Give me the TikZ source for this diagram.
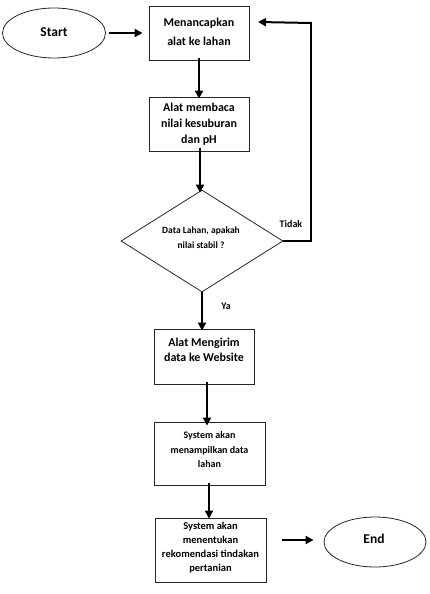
\documentclass[tikz,border=0pt]{standalone}
\usepackage{fontspec}
\setmainfont{Carlito}
\usetikzlibrary{shapes.geometric,arrows.meta}
\begin{document}
\begin{tikzpicture}[x=1pt,y=-1pt,
  box/.style={draw=black!85,line width=0.8pt,rectangle,inner sep=0pt},
  oval/.style={draw=black!85,line width=0.8pt,ellipse,inner sep=0pt},
  dia/.style={draw=black!85,line width=0.8pt,diamond,inner sep=0pt},
  txt/.style={align=center,font=\bfseries,inner sep=0pt},
  arr/.style={line width=2pt,-{Triangle[length=8pt,width=8pt]}},
  lbl/.style={font=\bfseries\fontsize{10}{12}\selectfont,inner sep=0pt}]
\useasboundingbox (0,0) rectangle (429,594);
% shapes
\node[oval,minimum width=103pt,minimum height=50pt] (start) at (54,33) {};
\node[txt,font=\bfseries\fontsize{13.5}{16}\selectfont] (starttxt) at (54,32) {Start};
\node[box,minimum width=100pt,minimum height=54pt] (b1) at (199,33) {};
\node[txt,font=\bfseries\fontsize{12}{19}\selectfont] (b1txt) at (199,32) {Menancapkan\\alat ke lahan};
\node[box,minimum width=100pt,minimum height=54pt] (b2) at (199,124) {};
\node[txt,font=\bfseries\fontsize{12}{16}\selectfont] (b2txt) at (199,124) {Alat membaca\\nilai kesuburan\\dan pH};
\node[dia,minimum width=162pt,minimum height=102pt] (d) at (202,241) {};
\node[txt,font=\bfseries\fontsize{9.5}{15}\selectfont] (dtxt) at (201,238) {Data Lahan, apakah\\nilai stabil ?};
\node[box,minimum width=100pt,minimum height=55pt] (b3) at (204,356.5) {};
\node[txt,font=\bfseries\fontsize{12}{15}\selectfont] (b3txt) at (204,350) {Alat Mengirim\\data ke Website};
\node[box,minimum width=111pt,minimum height=63pt] (b4) at (209.5,453.5) {};
\node[txt,font=\bfseries\fontsize{10}{14.5}\selectfont] (b4txt) at (209.5,450) {System akan\\menampilkan data\\lahan};
\node[box,minimum width=111pt,minimum height=64pt] (b5) at (210.5,550) {};
\node[txt,font=\bfseries\fontsize{10.5}{14}\selectfont] (b5txt) at (210.5,548) {System akan\\menentukan\\rekomendasi tindakan\\pertanian};
\node[oval,minimum width=102pt,minimum height=50pt] (end) at (375,542) {};
\node[txt,font=\bfseries\fontsize{13.5}{16}\selectfont] (endtxt) at (374,539) {End};
% labels
\node[lbl] (tidak) at (291,224) {Tidak};
\node[lbl] (ya) at (226,306) {Ya};
% corner coordinates of feedback loop
\coordinate (c1) at (311,241);
\coordinate (c2) at (311,22);
\coordinate (c3) at (258,22);
% connectors
\draw[arr] ([xshift=3pt]start.east) -- ([xshift=-6pt]b1.west);
\draw[arr] ([yshift=2pt]b1.south) -- ([yshift=-2pt]b1.south |- b2.north);
\draw[arr] ([xshift=1pt,yshift=3pt]b2.south) -- ([xshift=1pt,yshift=-3pt]b2.south |- d.north);
\draw[arr] (d.south) -- ([yshift=-2pt]d.south |- b3.north);
\draw[arr] ([xshift=3pt,yshift=2pt]b3.south) -- ([xshift=3pt,yshift=-4pt]b3.south |- b4.north);
\draw[arr] ([xshift=-0.5pt,yshift=2pt]b4.south) -- ([xshift=-0.5pt,yshift=-1pt]b4.south |- b5.north);
\draw[arr] ([xshift=16pt,yshift=2pt]b5.east |- end.west) -- ([xshift=-10pt,yshift=2pt]end.west);
\draw[line width=2pt] (d.east) -- (c1) -- (c2);
\draw[arr] ([yshift=-1pt]c2) -- (c3);
\end{tikzpicture}
\end{document}
